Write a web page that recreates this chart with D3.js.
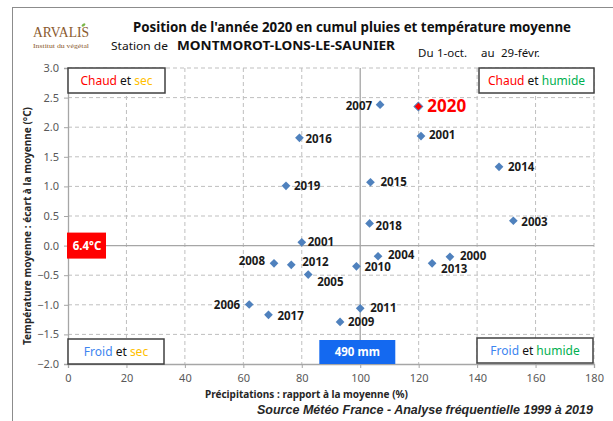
<!DOCTYPE html>
<html>
<head>
<meta charset="utf-8">
<script src="https://cdn.jsdelivr.net/npm/d3@7"></script>
<style>
  body { margin: 0; background: #fff; }
  svg { display: block; font-family: "Noto Sans", sans-serif; }
</style>
</head>
<body>
<svg id="chart"></svg>
<script>
// values
const years = ["2000","2001","2001","2003","2004","2005","2006","2007","2008","2009","2010",
               "2011","2012","2013","2014","2015","2016","2017","2018","2019","2020"];
const precipPct = [130.7, 120.8, 80.0, 152.4, 106.1, 82.2, 62.0, 106.8, 70.5, 93.1, 98.7,
                   100.0, 76.4, 124.6, 147.5, 103.5, 79.2, 68.6, 103.2, 74.6, 119.9];
const tempGap = [-0.19, 1.85, 0.055, 0.42, -0.18, -0.49, -0.995, 2.38, -0.30, -1.29, -0.35,
                 -1.06, -0.325, -0.30, 1.33, 1.07, 1.82, -1.17, 0.375, 1.01, 2.35];
const xTicks = [0, 20, 40, 60, 80, 100, 120, 140, 160, 180];
const yTicks = [-2.0, -1.5, -1.0, -0.5, 0.0, 0.5, 1.0, 1.5, 2.0, 2.5, 3.0];
const highlightYear = "2020";
const meanTemp = "6.4°C";
const meanRain = "490 mm";

const W = 613, H = 421;
const margin = {top: 68, right: 19, bottom: 57, left: 68};
const width = W - margin.left - margin.right;
const height = H - margin.top - margin.bottom;

const svg = d3.select("#chart").attr("width", W).attr("height", H);

// outer frame of the picture
svg.append("rect")
    .attr("x", 12.5).attr("y", 7.5)
    .attr("width", 700).attr("height", 500)
    .attr("fill", "none").attr("stroke", "#8c8c8c").attr("stroke-width", 1);

// logo
svg.append("text")
    .attr("x", 33).attr("y", 37)
    .attr("textLength", 56).attr("lengthAdjust", "spacingAndGlyphs")
    .style("font-family", "'Liberation Serif', serif")
    .style("font-size", "14px").attr("fill", "#8a5a2e")
    .text("ARVALIS");
svg.append("ellipse")
    .attr("cx", 83.5).attr("cy", 25).attr("rx", 2.2).attr("ry", 1.3)
    .attr("transform", "rotate(-35,83.5,25)")
    .attr("fill", "#7ab648");
svg.append("text")
    .attr("x", 33).attr("y", 48)
    .attr("textLength", 56).attr("lengthAdjust", "spacingAndGlyphs")
    .style("font-family", "'Liberation Serif', serif")
    .style("font-size", "6.5px").attr("fill", "#8a5a2e")
    .text("Institut du végétal");

// titles
svg.append("text")
    .attr("x", 133).attr("y", 32)
    .attr("textLength", 438).attr("lengthAdjust", "spacingAndGlyphs")
    .style("font-size", "13.5px").style("font-weight", "bold").attr("fill", "#111")
    .text("Position de l'année 2020 en cumul pluies et température moyenne");
svg.append("text")
    .attr("x", 111).attr("y", 50)
    .attr("textLength", 57).attr("lengthAdjust", "spacingAndGlyphs")
    .style("font-size", "11.5px").attr("fill", "#111")
    .text("Station de");
svg.append("text")
    .attr("x", 177).attr("y", 50)
    .attr("textLength", 218).attr("lengthAdjust", "spacingAndGlyphs")
    .style("font-size", "12.5px").style("font-weight", "bold").attr("fill", "#111")
    .text("MONTMOROT-LONS-LE-SAUNIER");
[["Du", 418], ["1-oct.", 437], ["au", 481], ["29-févr.", 501]].forEach(([t, x]) => {
  svg.append("text")
      .attr("x", x).attr("y", 57)
      .style("font-size", "11.5px").attr("fill", "#111")
      .text(t);
});

const chart = svg.append("g")
    .attr("transform", `translate(${margin.left},${margin.top})`);

const xScale = d3.scaleLinear().domain([0, 180]).range([0, width]);
const yScale = d3.scaleLinear().domain([-2, 3]).range([height, 0]);

// dashed grid
chart.selectAll(".vgrid")
    .data(xTicks.filter(d => d !== 0 && d !== 100))
    .join("line")
    .attr("x1", d => xScale(d)).attr("x2", d => xScale(d))
    .attr("y1", 0).attr("y2", height)
    .attr("stroke", "#bfbfbf").attr("stroke-dasharray", "4,3");
chart.selectAll(".hgrid")
    .data(yTicks.filter(d => d !== -2 && d !== 0))
    .join("line")
    .attr("x1", 0).attr("x2", width)
    .attr("y1", d => yScale(d)).attr("y2", d => yScale(d))
    .attr("stroke", "#bfbfbf").attr("stroke-dasharray", "4,3");

// axes
const xAxis = d3.axisBottom(xScale).tickValues(xTicks).tickSize(4).tickPadding(6).tickFormat(d3.format("d"));
const yAxis = d3.axisLeft(yScale).tickValues(yTicks).tickSize(4).tickPadding(5).tickFormat(d3.format(".1f"));

const xAxisG = chart.append("g").attr("transform", `translate(0,${height})`).call(xAxis);
const yAxisG = chart.append("g").call(yAxis);
[xAxisG, yAxisG].forEach(g => {
  g.select(".domain").attr("stroke", "#a6a6a6").attr("stroke-width", 1.3);
  g.selectAll(".tick line").attr("stroke", "#a6a6a6");
  g.selectAll("text").style("font-size", "11px").style("font-family", "'Noto Sans', sans-serif").attr("fill", "#595959");
});

// reference lines at the mean
chart.append("line")
    .attr("x1", 0).attr("x2", width)
    .attr("y1", yScale(0)).attr("y2", yScale(0))
    .attr("stroke", "#a6a6a6").attr("stroke-width", 1.3);
chart.append("line")
    .attr("x1", xScale(100)).attr("x2", xScale(100))
    .attr("y1", 0).attr("y2", height)
    .attr("stroke", "#a6a6a6").attr("stroke-width", 1.3);

// axis titles
svg.append("text")
    .attr("x", 205).attr("y", 398)
    .attr("textLength", 203).attr("lengthAdjust", "spacingAndGlyphs")
    .style("font-size", "11px").style("font-weight", "bold").attr("fill", "#262626")
    .text("Précipitations : rapport à la moyenne (%)");
svg.append("text")
    .attr("transform", "translate(31,226) rotate(-90)")
    .attr("text-anchor", "middle")
    .attr("textLength", 238).attr("lengthAdjust", "spacingAndGlyphs")
    .style("font-size", "11px").style("font-weight", "bold").attr("fill", "#262626")
    .text("Température moyenne : écart à la moyenne (°C)");
svg.append("text")
    .attr("x", 257).attr("y", 414)
    .attr("textLength", 336).attr("lengthAdjust", "spacingAndGlyphs")
    .style("font-family", "'Liberation Sans', Arial, sans-serif")
    .style("font-size", "12px").style("font-weight", "bold").style("font-style", "italic")
    .attr("fill", "#262626")
    .text("Source Météo France - Analyse fréquentielle 1999 à 2019");

// quadrant boxes
const quadrants = [
  {x: 0, y: 0, w: 97, parts: [["Chaud", "#ff0000"], [" et ", "#111"], ["sec", "#ffc000"]]},
  {x: width - 115, y: 0, w: 115, parts: [["Chaud", "#ff0000"], [" et ", "#111"], ["humide", "#00b050"]]},
  {x: 0, y: height - 25, w: 96, parts: [["Froid", "#3d85f0"], [" et ", "#111"], ["sec", "#ffc000"]]},
  {x: width - 117, y: height - 26, w: 116, parts: [["Froid", "#3d85f0"], [" et ", "#111"], ["humide", "#00b050"]]}
];
quadrants.forEach(q => {
  chart.append("rect")
      .attr("x", q.x).attr("y", q.y).attr("width", q.w).attr("height", 25)
      .attr("fill", "#fff").attr("stroke", "#404040").attr("stroke-width", 1.5);
  const t = chart.append("text")
      .attr("x", q.x + q.w / 2).attr("y", q.y + 16.5)
      .attr("text-anchor", "middle")
      .style("font-size", "12px");
  q.parts.forEach(([s, c]) => t.append("tspan").attr("fill", c).style("white-space", "pre").text(s));
});

// mean markers
chart.append("rect")
    .attr("x", xScale(86)).attr("y", height - 24)
    .attr("width", xScale(112) - xScale(86)).attr("height", 24)
    .attr("fill", "#1469f0");
chart.append("text")
    .attr("x", (xScale(86) + xScale(112)) / 2).attr("y", height - 8)
    .attr("text-anchor", "middle")
    .style("font-size", "11.5px").style("font-weight", "bold").attr("fill", "#fff")
    .text(meanRain);
chart.append("rect")
    .attr("x", -1).attr("y", yScale(0) - 13)
    .attr("width", 39).attr("height", 26)
    .attr("fill", "#ff0000");
chart.append("text")
    .attr("x", 19).attr("y", yScale(0) + 4.5)
    .attr("text-anchor", "middle")
    .style("font-size", "11.5px").style("font-weight", "bold").attr("fill", "#fff")
    .text(meanTemp);

// points
const points = years.map((y, i) => ({year: y, x: precipPct[i], y: tempGap[i], i}));
const diamond = d3.symbol().type(d3.symbolSquare).size(38);

chart.selectAll(".pt")
    .data(points)
    .join("path")
    .attr("class", "pt")
    .attr("d", diamond)
    .attr("transform", d => `translate(${xScale(d.x)},${yScale(d.y)}) rotate(45)`)
    .attr("fill", d => d.year === highlightYear ? "#ff0000" : "#4f81bd")
    .attr("stroke", d => d.year === highlightYear ? "#4f81bd" : "none")
    .attr("stroke-width", 1);

// label nudges by point index: [dx, dy, anchor]
const nudge = {
  0: [10, 3], 1: [8, 3], 2: [6, 4], 3: [8, 5], 4: [10, 3], 5: [9, 11],
  6: [-9, 4, "end"], 7: [-8, 5, "end"], 8: [-9, 2, "end"], 9: [8, 4], 10: [8, 5],
  11: [10, 4], 12: [11, 1], 13: [9, 10], 14: [9, 4], 15: [10, 4], 16: [6, 5],
  17: [9, 5], 18: [6, 7], 19: [8, 4], 20: [9, 6]
};

chart.selectAll(".lbl")
    .data(points)
    .join("text")
    .attr("class", "lbl")
    .attr("x", d => xScale(d.x) + (nudge[d.i] || [9])[0])
    .attr("y", d => yScale(d.y) + (nudge[d.i] || [9, 4])[1])
    .attr("text-anchor", d => (nudge[d.i] || [])[2] || "start")
    .style("font-size", d => d.year === highlightYear ? "17px" : "11.5px")
    .style("font-weight", "bold")
    .attr("fill", d => d.year === highlightYear ? "#ff0000" : "#1a1a1a")
    .text(d => d.year);
</script>
</body>
</html>
